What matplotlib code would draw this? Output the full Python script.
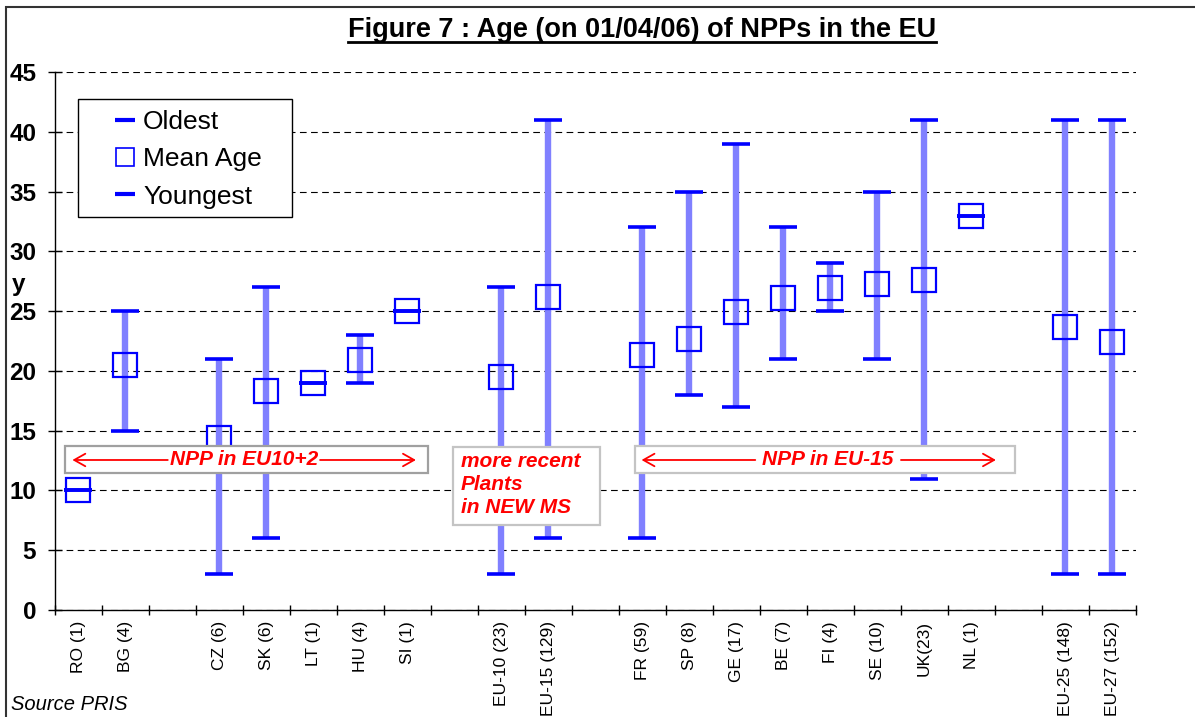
import matplotlib
matplotlib.use('Agg')
import matplotlib.pyplot as plt
from matplotlib.lines import Line2D
from matplotlib.patches import Rectangle
import numpy as np

plt.rcParams['font.family'] = ['Liberation Sans', 'DejaVu Sans']

categories = ['RO (1)', 'BG (4)', 'CZ (6)', 'SK (6)', 'LT (1)', 'HU (4)', 'SI (1)',
              'EU-10 (23)', 'EU-15 (129)',
              'FR (59)', 'SP (8)', 'GE (17)', 'BE (7)', 'FI (4)', 'SE (10)', 'UK(23)', 'NL (1)',
              'EU-25 (148)', 'EU-27 (152)']
oldest = [10, 25, 21, 27, 19, 23, 25, 27, 41, 32, 35, 39, 32, 29, 35, 41, 33, 41, 41]
mean_age = [10, 20.5, 14.4, 18.3, 19, 20.9, 25, 19.5, 26.2, 21.3, 22.7, 24.9, 26.1, 26.9, 27.3, 27.6, 33, 23.7, 22.4]
youngest = [10, 15, 3, 6, 19, 19, 25, 3, 6, 6, 18, 17, 21, 25, 21, 11, 33, 3, 3]
# an empty slot is left before these categories
gap_before = ['CZ (6)', 'EU-10 (23)', 'FR (59)', 'EU-25 (148)']

# slot positions
pos = []
slot = 0
for c in categories:
    if c in gap_before:
        slot += 1
    pos.append(slot + 0.5)
    slot += 1
n_slots = slot
pos = np.array(pos)

bar_col = '#8080ff'
blue = '#0000ff'
red = '#ff0000'

fig = plt.figure(figsize=(11.95, 7.17), dpi=100)
ax = fig.add_axes([0.046, 0.1492, 0.9046, 0.7503])

ax.vlines(pos, youngest, oldest, color=bar_col, lw=4.6, zorder=3)
ax.plot(pos, oldest, ls='none', marker='_', ms=19.5, mew=2.6, color=blue, zorder=4)
ax.plot(pos, youngest, ls='none', marker='_', ms=19.5, mew=2.6, color=blue, zorder=4)
ax.plot(pos, mean_age, ls='none', marker='s', ms=17, mew=1.6, mfc='none', mec=blue, zorder=5)

ax.set_xlim(0, n_slots)
ax.set_ylim(0, 45)
ax.set_yticks(np.arange(0, 46, 5))
ax.set_xticks(np.arange(0, n_slots + 1))
ax.set_xticklabels([])
ax.set_xticks(pos, minor=True)
ax.set_xticklabels(categories, minor=True, rotation=90, fontsize=12.5, va='top', ha='center')
ax.tick_params(axis='x', which='minor', length=0, pad=8)
ax.tick_params(axis='x', which='major', direction='inout', length=7, width=1)
ax.tick_params(axis='y', direction='inout', length=10, width=1, pad=8.5, labelsize=17.5)
for lab in ax.get_yticklabels():
    lab.set_fontweight('bold')

ax.yaxis.grid(True, color='black', lw=0.8, ls=(0, (6, 4)))
ax.set_axisbelow(True)
for s in ['top', 'right']:
    ax.spines[s].set_visible(False)
ax.spines['left'].set_linewidth(1)
ax.spines['bottom'].set_linewidth(1)

ax.set_ylabel('y', rotation=0, fontsize=17.5, fontweight='bold', va='center', ha='center')
ax.yaxis.set_label_coords(-0.034, 0.605)

# legend, frame drawn separately
handles = [
    Line2D([], [], ls='none', marker='_', ms=15, mew=3, color=blue),
    Line2D([], [], ls='none', marker='s', ms=13, mew=1.2, mfc='none', mec=blue),
    Line2D([], [], ls='none', marker='_', ms=15, mew=3, color=blue),
]
leg = ax.legend(handles, ['Oldest', 'Mean Age', 'Youngest'], loc='upper left',
                bbox_to_anchor=(0.0546, 0.929), borderaxespad=0, borderpad=0, fontsize=19,
                frameon=False, labelspacing=0.5, handlelength=0.8, handletextpad=0.3)
leg.set_zorder(10)
ax.add_patch(Rectangle((0.0213, 0.7305), 0.198, 0.2193, transform=ax.transAxes,
                       fc='white', ec='black', lw=1, zorder=9))

arrow_style = dict(arrowstyle='->,head_length=0.8,head_width=0.45', color=red, lw=1.3,
                   shrinkA=0, shrinkB=0)
# EU10+2 box
ax.add_patch(Rectangle((0.21, 11.45), 7.73, 2.3, fc='white', ec='#a0a0a0', lw=1.6, zorder=6))
ax.text(4.02, 12.55, 'NPP in EU10+2', color=red, fontsize=15, fontweight='bold',
        style='italic', ha='center', va='center', zorder=7)
ax.annotate('', xy=(0.37, 12.55), xytext=(2.4, 12.55), zorder=7, arrowprops=arrow_style)
ax.annotate('', xy=(7.68, 12.55), xytext=(5.64, 12.55), zorder=7, arrowprops=arrow_style)

# more recent box
ax.add_patch(Rectangle((8.46, 7.08), 3.14, 6.52, fc='white', ec='#c4c4c4', lw=1.6, zorder=6))
for txt, yy in [('more recent', 12.44), ('Plants', 10.5), ('in NEW MS', 8.6)]:
    ax.text(8.63, yy, txt, color=red, fontsize=15, fontweight='bold', style='italic',
            ha='left', va='center', zorder=7)

# EU-15 box
ax.add_patch(Rectangle((12.34, 11.45), 8.09, 2.3, fc='white', ec='#c4c4c4', lw=1.6, zorder=6))
ax.text(16.45, 12.55, 'NPP in EU-15', color=red, fontsize=15, fontweight='bold',
        style='italic', ha='center', va='center', zorder=7)
ax.annotate('', xy=(12.48, 12.55), xytext=(14.9, 12.55), zorder=7, arrowprops=arrow_style)
ax.annotate('', xy=(20.02, 12.55), xytext=(18.0, 12.55), zorder=7, arrowprops=arrow_style)

title = fig.text(0.537, 0.958, 'Figure 7 : Age (on 01/04/06) of NPPs in the EU',
                 fontsize=19.5, fontweight='bold', ha='center', va='center')
fig.text(0.009, 0.017, 'Source PRIS', fontsize=14.5, style='italic', ha='left', va='center')

# outer frame
fig.patches.append(Rectangle((6 / 1195, -0.1), 1.2, 1.1 - 7 / 717, transform=fig.transFigure,
                             fill=False, ec='#333333', lw=1.5))

# underline the title
fig.canvas.draw()
bb = title.get_window_extent().transformed(fig.transFigure.inverted())
fig.add_artist(Line2D([bb.x0, bb.x1], [bb.y0 + 0.002, bb.y0 + 0.002], color='black', lw=2,
                      transform=fig.transFigure))

fig.savefig('out.png', dpi=100)
